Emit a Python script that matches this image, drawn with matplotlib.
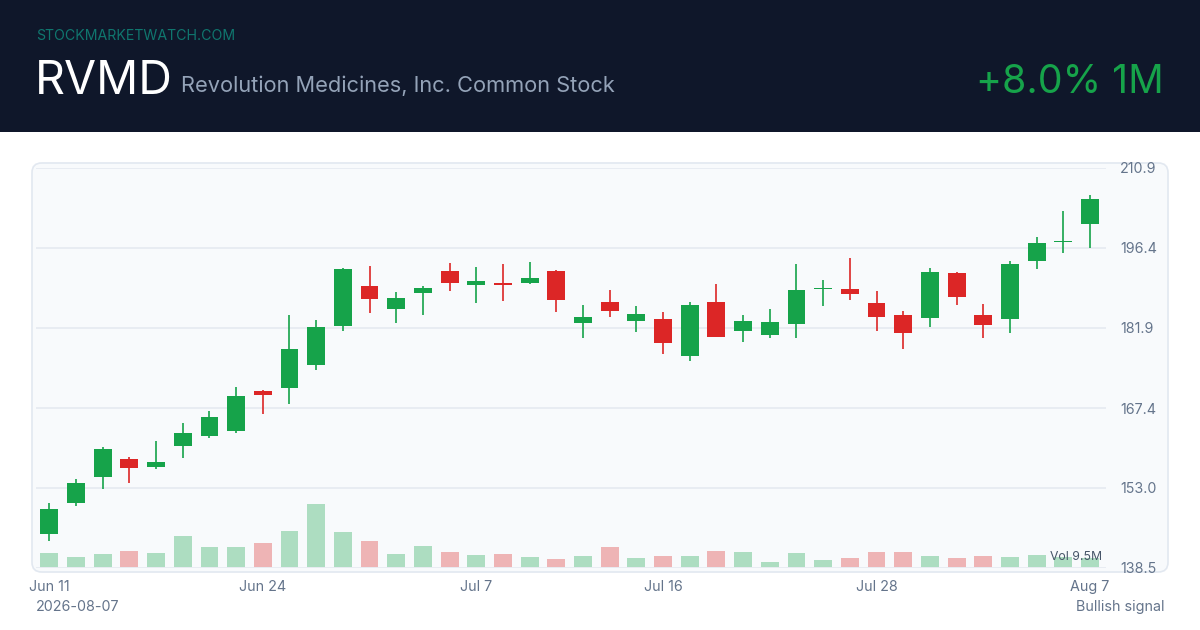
import matplotlib
matplotlib.use("Agg")
import matplotlib.pyplot as plt
from matplotlib.patches import Rectangle, FancyBboxPatch
import numpy as np

plt.rcParams['font.family'] = ['Inter', 'DejaVu Sans']

# ---------------- data ----------------
opens = [144.6, 150.3, 155.0, 158.2, 156.7, 160.6, 162.3, 163.2, 170.4, 171.0,
         175.1, 182.2, 189.5, 185.4, 188.3, 192.2, 189.6, 190.0, 190.0, 192.2,
         182.8, 186.6, 183.1, 183.5, 176.8, 186.6, 181.3, 180.6, 182.6, 188.9,
         188.9, 186.5, 184.2, 183.7, 191.9, 184.3, 183.5, 194.1, 197.5, 200.8]
highs = [150.3, 154.6, 160.3, 158.6, 161.5, 164.7, 166.8, 171.2, 170.6, 184.3,
         183.3, 192.7, 193.1, 188.4, 189.5, 193.6, 192.9, 193.5, 193.8, 192.4,
         186.0, 188.7, 185.9, 184.8, 186.6, 189.8, 184.2, 185.3, 193.5, 190.5,
         194.5, 188.6, 185.0, 192.7, 192.0, 186.2, 194.0, 198.3, 203.0, 206.0]
lows = [143.4, 149.6, 152.8, 153.9, 156.3, 158.3, 162.0, 162.9, 166.4, 168.1,
        174.2, 181.4, 184.6, 182.8, 184.3, 188.6, 186.5, 186.7, 189.9, 184.8,
        180.1, 183.9, 181.1, 177.1, 176.0, 180.2, 179.4, 180.1, 180.0, 185.9,
        187.0, 181.4, 178.0, 182.0, 186.1, 180.1, 181.0, 192.5, 195.4, 196.4]
closes = [149.2, 153.8, 160.0, 156.5, 157.7, 162.9, 165.7, 169.5, 169.8, 178.0,
          182.0, 192.5, 187.2, 187.4, 189.2, 190.0, 190.4, 189.7, 191.0, 186.9,
          183.9, 184.9, 184.4, 179.1, 186.1, 180.3, 183.2, 182.9, 188.7, 189.1,
          188.1, 183.9, 180.9, 192.1, 187.5, 182.4, 193.4, 197.3, 197.7, 205.2]
volumes_m = [14.9, 10.5, 14.3, 17.0, 14.9, 31.9, 21.0, 21.0, 24.8, 37.3,
             64.8, 36.3, 27.1, 14.3, 21.7, 16.3, 12.9, 13.6, 10.9, 8.8,
             11.5, 21.0, 10.2, 11.5, 12.2, 17.0, 15.6, 6.1, 15.3, 8.1,
             9.5, 15.9, 15.6, 11.9, 9.8, 12.2, 10.9, 12.9, 11.2, 9.5]
tick_idx = [0, 8, 16, 23, 31, 39]
tick_labels = ['Jun 11', 'Jun 24', 'Jul 7', 'Jul 16', 'Jul 28', 'Aug 7']
price_ticks = [138.5, 153.0, 167.4, 181.9, 196.4, 210.9]
y_min, y_max = 138.5, 210.9

ticker = 'RVMD'
company = 'Revolution Medicines, Inc. Common Stock'
change_text = '+8.0% 1M'
site = 'STOCKMARKETWATCH.COM'
date_text = '2026-08-07'
signal_text = 'Bullish signal'
vol_text = 'Vol 9.5M'

# ---------------- style ----------------
W, H = 1200, 630
GREEN = '#16a34a'
RED = '#dc2626'
NAVY = '#0f172a'
GRID = '#e8ecf2'
LABEL = '#64748b'

fig = plt.figure(figsize=(W / 100, H / 100), dpi=100)
fig.patch.set_facecolor('white')


def fx(x):
    return x / W


def fy(y):
    return 1 - y / H


# header band
fig.patches.append(Rectangle((0, fy(132)), 1, 132 / H, transform=fig.transFigure,
                             facecolor=NAVY, edgecolor='none', zorder=-2))
fig.text(fx(36), fy(40), site, color='#0f766e', fontsize=10.2, va='baseline',
         ha='left')
fig.text(fx(35), fy(94), ticker, color='white', fontsize=33.5, va='baseline',
         ha='left')
fig.text(fx(181), fy(92), company, color='#94a3b8', fontsize=15.7,
         va='baseline', ha='left')
fig.text(fx(1164), fy(93), change_text, color=GREEN, fontsize=28.3,
         va='baseline', ha='right')

# chart panel
panel = FancyBboxPatch((fx(32), fy(572)), fx(1168 - 32), (572 - 163) / H,
                       boxstyle='round,pad=0,rounding_size=0.008',
                       transform=fig.transFigure, facecolor='#f8fafc',
                       edgecolor='#e2e8f0', linewidth=1.2, zorder=-1,
                       mutation_aspect=W / H)
fig.patches.append(panel)

rect = [fx(36), fy(567.7), fx(1106 - 36), (567.7 - 167.7) / H]
ax_v = fig.add_axes(rect, zorder=1)
ax = fig.add_axes(rect, sharex=ax_v, zorder=2)
for a in (ax, ax_v):
    a.patch.set_visible(False)
    for s in a.spines.values():
        s.set_visible(False)

n = len(opens)
x = np.arange(n)
up = [c >= o for o, c in zip(opens, closes)]
colors = [GREEN if u else RED for u in up]

# volume
ax_v.bar(x, volumes_m, width=0.67, color=colors, alpha=0.33, linewidth=0)
ax_v.set_ylim(0, max(volumes_m) * 400 / 63.7)
ax_v.set_yticks([])
ax_v.tick_params(axis='x', length=0, labelbottom=False)

# candles
ax.vlines(x, lows, highs, colors=colors, linewidth=1.2, zorder=3)
bottoms = [min(o, c) for o, c in zip(opens, closes)]
heights = [max(abs(c - o), 0.22) for o, c in zip(opens, closes)]
ax.bar(x, heights, bottom=bottoms, width=0.67, color=colors, linewidth=0,
       zorder=4)

ax.set_xlim(-0.5, 39.6)
ax.set_ylim(y_min, y_max)
ax.set_yticks(price_ticks)
ax.set_yticklabels([f'{v:.1f}' for v in price_ticks])
ax.yaxis.tick_right()
ax.grid(axis='y', color=GRID, linewidth=1.4, zorder=0)
ax.set_axisbelow(True)
ax.tick_params(axis='y', length=0, pad=10, labelsize=10.3, labelcolor=LABEL)
ax.set_xticks(tick_idx)
ax.set_xticklabels(tick_labels)
ax.tick_params(axis='x', length=0, pad=8.5, labelsize=10.3, labelcolor=LABEL)

# annotations
fig.text(fx(1102), fy(557), vol_text, color='#475569', fontsize=8.8,
         ha='right', va='center', zorder=5)
fig.text(fx(36), fy(607), date_text, color=LABEL, fontsize=10.3,
         ha='left', va='center')
fig.text(fx(1164), fy(607), signal_text, color=LABEL, fontsize=10.3,
         ha='right', va='center')

fig.savefig('out.png', dpi=100, facecolor='white')
